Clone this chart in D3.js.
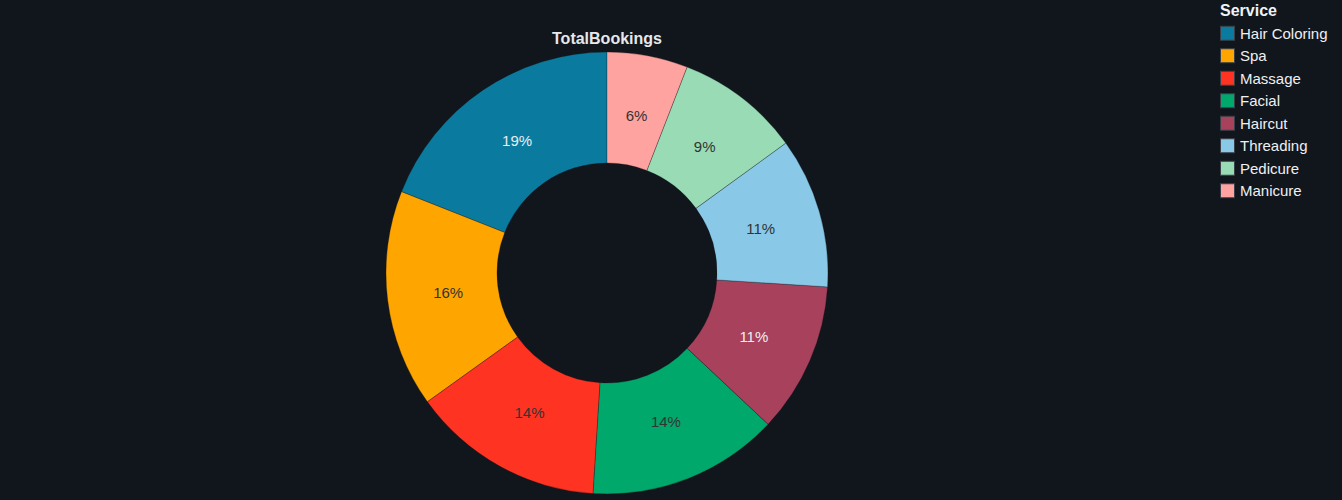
<!DOCTYPE html>
<html>
<head>
<meta charset="utf-8">
<script src="https://cdn.jsdelivr.net/npm/d3@7"></script>
<style>
  html, body { margin: 0; padding: 0; background: #11151c; }
  svg { display: block; font-family: "Liberation Sans", Arial, sans-serif; }
</style>
</head>
<body>
<svg id="chart" width="1342" height="500"></svg>
<script>
// ------------------------------------------
//  Data
// ------------------------------------------
const services = ["Hair Coloring", "Spa", "Massage", "Facial", "Haircut", "Threading", "Pedicure", "Manicure"]
const bookings = [190, 159, 141, 140, 110, 110, 91, 59]
const colors = ["#0a7b9e", "#ffa500", "#ff3322", "#00a86b", "#a8415b", "#89c8e6", "#98dbb4", "#ffa3a0"]
const labelColors = ["#e8eef2", "#333333", "#333333", "#333333", "#eeeeee", "#333333", "#333333", "#333333"]

// ------------------------------------------
//  Donut
// ------------------------------------------
function drawDonut() {
    const svg = d3.select("#chart")
    const cx = 607, cy = 273
    const outer = 221, inner = 110
    const total = d3.sum(bookings)

    const data = services.map((s, i) => ({ name: s, value: bookings[i], i }))

    // counter-clockwise from 12 o'clock
    const pie = d3.pie().sort(null).value(d => d.value)
        .startAngle(0).endAngle(-2 * Math.PI)
    const arc = d3.arc().innerRadius(inner).outerRadius(outer)

    const g = svg.append("g").attr("transform", `translate(${cx},${cy})`)

    g.selectAll(".slice")
        .data(pie(data))
        .enter().append("path")
        .attr("class", "slice")
        .attr("d", arc)
        .attr("fill", d => colors[d.data.i])
        .attr("stroke", "#11151c")
        .attr("stroke-width", 0.3)

    const labelArc = d3.arc().innerRadius(160).outerRadius(160)
    g.selectAll(".lbl")
        .data(pie(data))
        .enter().append("text")
        .attr("class", "lbl")
        .attr("transform", d => `translate(${labelArc.centroid(d)})`)
        .attr("text-anchor", "middle")
        .attr("dy", "0.35em")
        .attr("font-size", 15)
        .attr("fill", d => labelColors[d.data.i])
        .text(d => Math.round(d.data.value / total * 100) + "%")

    svg.append("text")
        .attr("x", cx).attr("y", 44)
        .attr("text-anchor", "middle")
        .attr("font-size", 16)
        .attr("font-weight", "bold")
        .attr("fill", "#e6e8ec")
        .text("TotalBookings")
}

// ------------------------------------------
//  Legend
// ------------------------------------------
function drawLegend() {
    const svg = d3.select("#chart")
    const lg = svg.append("g").attr("transform", "translate(1220,0)")
    const y = d3.scaleBand().domain(services).range([22, 202])

    lg.append("text")
        .attr("x", 0).attr("y", 16)
        .attr("font-size", 16)
        .attr("font-weight", "bold")
        .attr("fill", "#f0f2f5")
        .text("Service")

    const item = lg.selectAll(".item")
        .data(services)
        .enter().append("g")
        .attr("class", "item")
        .attr("transform", d => `translate(0,${y(d) + y.bandwidth() / 2})`)

    item.append("rect")
        .attr("x", 0.5).attr("y", -7)
        .attr("width", 14).attr("height", 14)
        .attr("fill", (d, i) => colors[i])
        .attr("stroke", "#3a3f48")
        .attr("stroke-width", 1)

    item.append("text")
        .attr("x", 20).attr("dy", "0.35em")
        .attr("font-size", 15)
        .attr("fill", "#eef0f3")
        .text(d => d)
}

drawDonut()
drawLegend()
</script>
</body>
</html>
